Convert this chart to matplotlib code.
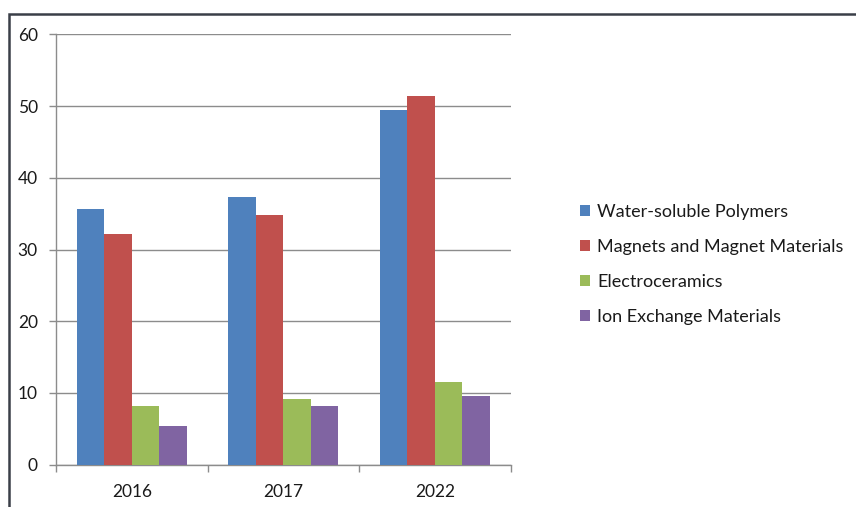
import matplotlib
matplotlib.use("Agg")
import matplotlib.pyplot as plt
import numpy as np
from matplotlib.patches import Rectangle, Patch

categories = ["2016", "2017", "2022"]
series_names = ["Water-soluble Polymers", "Magnets and Magnet Materials",
                "Electroceramics", "Ion Exchange Materials"]
water_soluble = [35.7, 37.3, 49.4]
magnets = [32.1, 34.8, 51.4]
electroceramics = [8.2, 9.2, 11.5]
ion_exchange = [5.4, 8.2, 9.6]
yticks = [0, 10, 20, 30, 40, 50, 60]

colors = ["#4F81BD", "#C0504D", "#9BBB59", "#8064A2"]
series = [water_soluble, magnets, electroceramics, ion_exchange]

plt.rcParams['font.family'] = ['Lato', 'DejaVu Sans']

fig = plt.figure(figsize=(8.56, 5.07), dpi=100)
fig.patch.set_facecolor("white")
ax = fig.add_axes([0.0654, 0.0834, 0.5312, 0.8489])

x = np.arange(len(categories))
bw = 1 / 5.5
for i, (vals, c) in enumerate(zip(series, colors)):
    ax.bar(x + (i - 1.5) * bw, vals, width=bw, color=c, label=series_names[i], zorder=3)

ax.set_xlim(-0.5, 2.5)
ax.set_ylim(0, 60)
ax.set_yticks(yticks)
ax.set_yticklabels([str(t) for t in yticks], fontsize=12.5, color="#1a1a1a")
ax.yaxis.grid(True, color="#8c8c8c", linewidth=1.0, zorder=0)
ax.set_axisbelow(True)

ax.set_xticks(x)
ax.set_xticklabels(categories, fontsize=12.5, color="#1a1a1a")
ax.tick_params(axis="x", length=0, pad=14)
ax.set_xticks([-0.5, 0.5, 1.5, 2.5], minor=True)
ax.tick_params(axis="x", which="minor", length=5, color="#8c8c8c", width=1)
ax.tick_params(axis="y", length=5, color="#8c8c8c", width=1, pad=8)

for s in ["top", "right"]:
    ax.spines[s].set_visible(False)
for s in ["left", "bottom"]:
    ax.spines[s].set_color("#8c8c8c")
    ax.spines[s].set_linewidth(1.0)

handles = [Patch(facecolor=c, edgecolor="none") for c in colors]
fig.legend(handles, series_names, loc="upper left",
           bbox_to_anchor=(0.669, 0.612), frameon=False, fontsize=13,
           handlelength=0.55, handleheight=0.55, handletextpad=0.4,
           labelspacing=1.05, borderaxespad=0, labelcolor="#1a1a1a")

# outer chart border (cropped at right/bottom)
fig.patches.append(Rectangle((8.5 / 856, -0.05), 1.1, 1.05 - 13.5 / 507,
                             transform=fig.transFigure, fill=False,
                             edgecolor="#3a3f48", linewidth=1.8, zorder=10))

fig.savefig("out.png", dpi=100, facecolor="white")
